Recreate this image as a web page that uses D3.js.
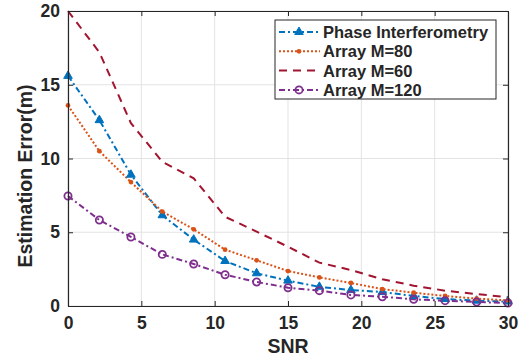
<!DOCTYPE html>
<html>
<head>
<meta charset="utf-8">
<script src="https://cdn.jsdelivr.net/npm/d3@7"></script>
<style>
  body { margin: 0; background: #fff; }
  svg text { font-family: "Liberation Sans", Arial, Helvetica, sans-serif; font-weight: bold; fill: #262626; }
</style>
</head>
<body>
<figure id="chart" style="margin:0"></figure>
<script>
// SNR sample points
const snr = [0, 2.14, 4.29, 6.43, 8.57, 10.71, 12.86, 15, 17.14, 19.29, 21.43, 23.57, 25.71, 27.86, 30];

// estimation error for each method
const phaseInterf = [15.6, 12.6, 8.9, 6.15, 4.5, 3.05, 2.22, 1.72, 1.3, 1.08, 0.95, 0.68, 0.47, 0.36, 0.3];
const arrayM80 = [13.6, 10.5, 8.4, 6.4, 5.2, 3.82, 3.1, 2.37, 1.94, 1.56, 1.15, 0.9, 0.68, 0.5, 0.38];
const arrayM60 = [20, 17.2, 12.4, 9.78, 8.66, 6.05, 5.04, 4.02, 2.94, 2.44, 1.81, 1.38, 1.04, 0.81, 0.59];
const arrayM120 = [7.46, 5.83, 4.68, 3.5, 2.85, 2.12, 1.63, 1.24, 1.04, 0.75, 0.63, 0.45, 0.36, 0.27, 0.2];

const xTicks = [0, 5, 10, 15, 20, 25, 30];
const yTicks = [0, 5, 10, 15, 20];

const series = [
  {name: 'Phase Interferometry', values: phaseInterf, color: '#0072BD', dash: '6,3,2,3', marker: 'triangle'},
  {name: 'Array M=80', values: arrayM80, color: '#D95319', dash: '2,2', marker: 'dot'},
  {name: 'Array M=60', values: arrayM60, color: '#A2142F', dash: '8,6', marker: 'none'},
  {name: 'Array M=120', values: arrayM120, color: '#7E2F8E', dash: '6,3,2,3', marker: 'circle'}
];

const W = 521, H = 362;
const margin = {top: 11, right: 13, bottom: 56, left: 68};
const width = W - margin.left - margin.right;
const height = H - margin.top - margin.bottom;

const svg = d3.select('figure#chart').append('svg')
  .attr('width', W).attr('height', H);

const g = svg.append('g').attr('transform', `translate(${margin.left},${margin.top})`);

const x = d3.scaleLinear().domain([0, 30]).range([0, width]);
const y = d3.scaleLinear().domain([0, 20]).range([height, 0]);

// grid
g.append('g').selectAll('line').data(xTicks).join('line')
  .attr('x1', d => x(d)).attr('x2', d => x(d))
  .attr('y1', 0).attr('y2', height)
  .attr('stroke', '#e3e3e3').attr('stroke-width', 1);
g.append('g').selectAll('line').data(yTicks).join('line')
  .attr('y1', d => y(d)).attr('y2', d => y(d))
  .attr('x1', 0).attr('x2', width)
  .attr('stroke', '#e3e3e3').attr('stroke-width', 1);

// lines
const line = d3.line()
  .x((d, i) => x(snr[i]))
  .y(d => y(d));

series.forEach(s => {
  g.append('path')
    .datum(s.values)
    .attr('fill', 'none')
    .attr('stroke', s.color)
    .attr('stroke-width', 2)
    .attr('stroke-dasharray', s.dash)
    .attr('d', line);
});

function drawMarker(sel, s, cx, cy) {
  if (s.marker === 'triangle') {
    sel.append('path')
      .attr('d', d3.symbol(d3.symbolTriangle, 32)())
      .attr('transform', `translate(${cx},${cy})`)
      .attr('fill', s.color).attr('stroke', s.color).attr('stroke-width', 1);
  } else if (s.marker === 'dot') {
    sel.append('circle').attr('cx', cx).attr('cy', cy).attr('r', 2.4)
      .attr('fill', s.color);
  } else if (s.marker === 'circle') {
    sel.append('circle').attr('cx', cx).attr('cy', cy).attr('r', 3.6)
      .attr('fill', 'none').attr('stroke', s.color).attr('stroke-width', 1.8);
  }
}

series.forEach(s => {
  const mg = g.append('g');
  s.values.forEach((v, i) => drawMarker(mg, s, x(snr[i]), y(v)));
});

// axes (inward ticks, box)
const xAxis = g.append('g').attr('transform', `translate(0,${height})`)
  .call(d3.axisBottom(x).tickValues(xTicks).tickSizeInner(-5).tickSizeOuter(0).tickPadding(11));
const yAxis = g.append('g')
  .call(d3.axisLeft(y).tickValues(yTicks).tickSizeInner(-5).tickSizeOuter(0).tickPadding(8));
g.append('g')
  .call(d3.axisTop(x).tickValues(xTicks).tickSizeInner(-5).tickSizeOuter(0).tickFormat(''));
g.append('g').attr('transform', `translate(${width},0)`)
  .call(d3.axisRight(y).tickValues(yTicks).tickSizeInner(-5).tickSizeOuter(0).tickFormat(''));

svg.selectAll('.domain').attr('stroke', '#262626').attr('stroke-width', 1.2);
svg.selectAll('.tick line').attr('stroke', '#262626');
xAxis.selectAll('text').attr('font-size', 17.5).attr('font-weight', 'bold').attr('fill', '#262626');
yAxis.selectAll('text').attr('font-size', 17.5).attr('font-weight', 'bold').attr('fill', '#262626');

// axis labels
svg.append('text')
  .attr('x', margin.left + width / 2).attr('y', 353)
  .attr('text-anchor', 'middle').attr('font-size', 19.5)
  .text('SNR');
svg.append('text')
  .attr('transform', 'translate(32,176) rotate(-90)')
  .attr('text-anchor', 'middle').attr('font-size', 19.5)
  .text('Estimation Error(m)');

// legend
const lg = svg.append('g').attr('transform', 'translate(275,20)');
lg.append('rect').attr('width', 221).attr('height', 79)
  .attr('fill', '#fff').attr('stroke', '#262626').attr('stroke-width', 1);
series.forEach((s, i) => {
  const ly = 12 + i * 19.3;
  lg.append('line').attr('x1', 4).attr('x2', 45).attr('y1', ly).attr('y2', ly)
    .attr('stroke', s.color).attr('stroke-width', 2).attr('stroke-dasharray', s.dash);
  drawMarker(lg, s, 24, ly);
  lg.append('text').attr('x', 48).attr('y', ly + 6)
    .attr('font-size', 16.5).text(s.name);
});
</script>
</body>
</html>
